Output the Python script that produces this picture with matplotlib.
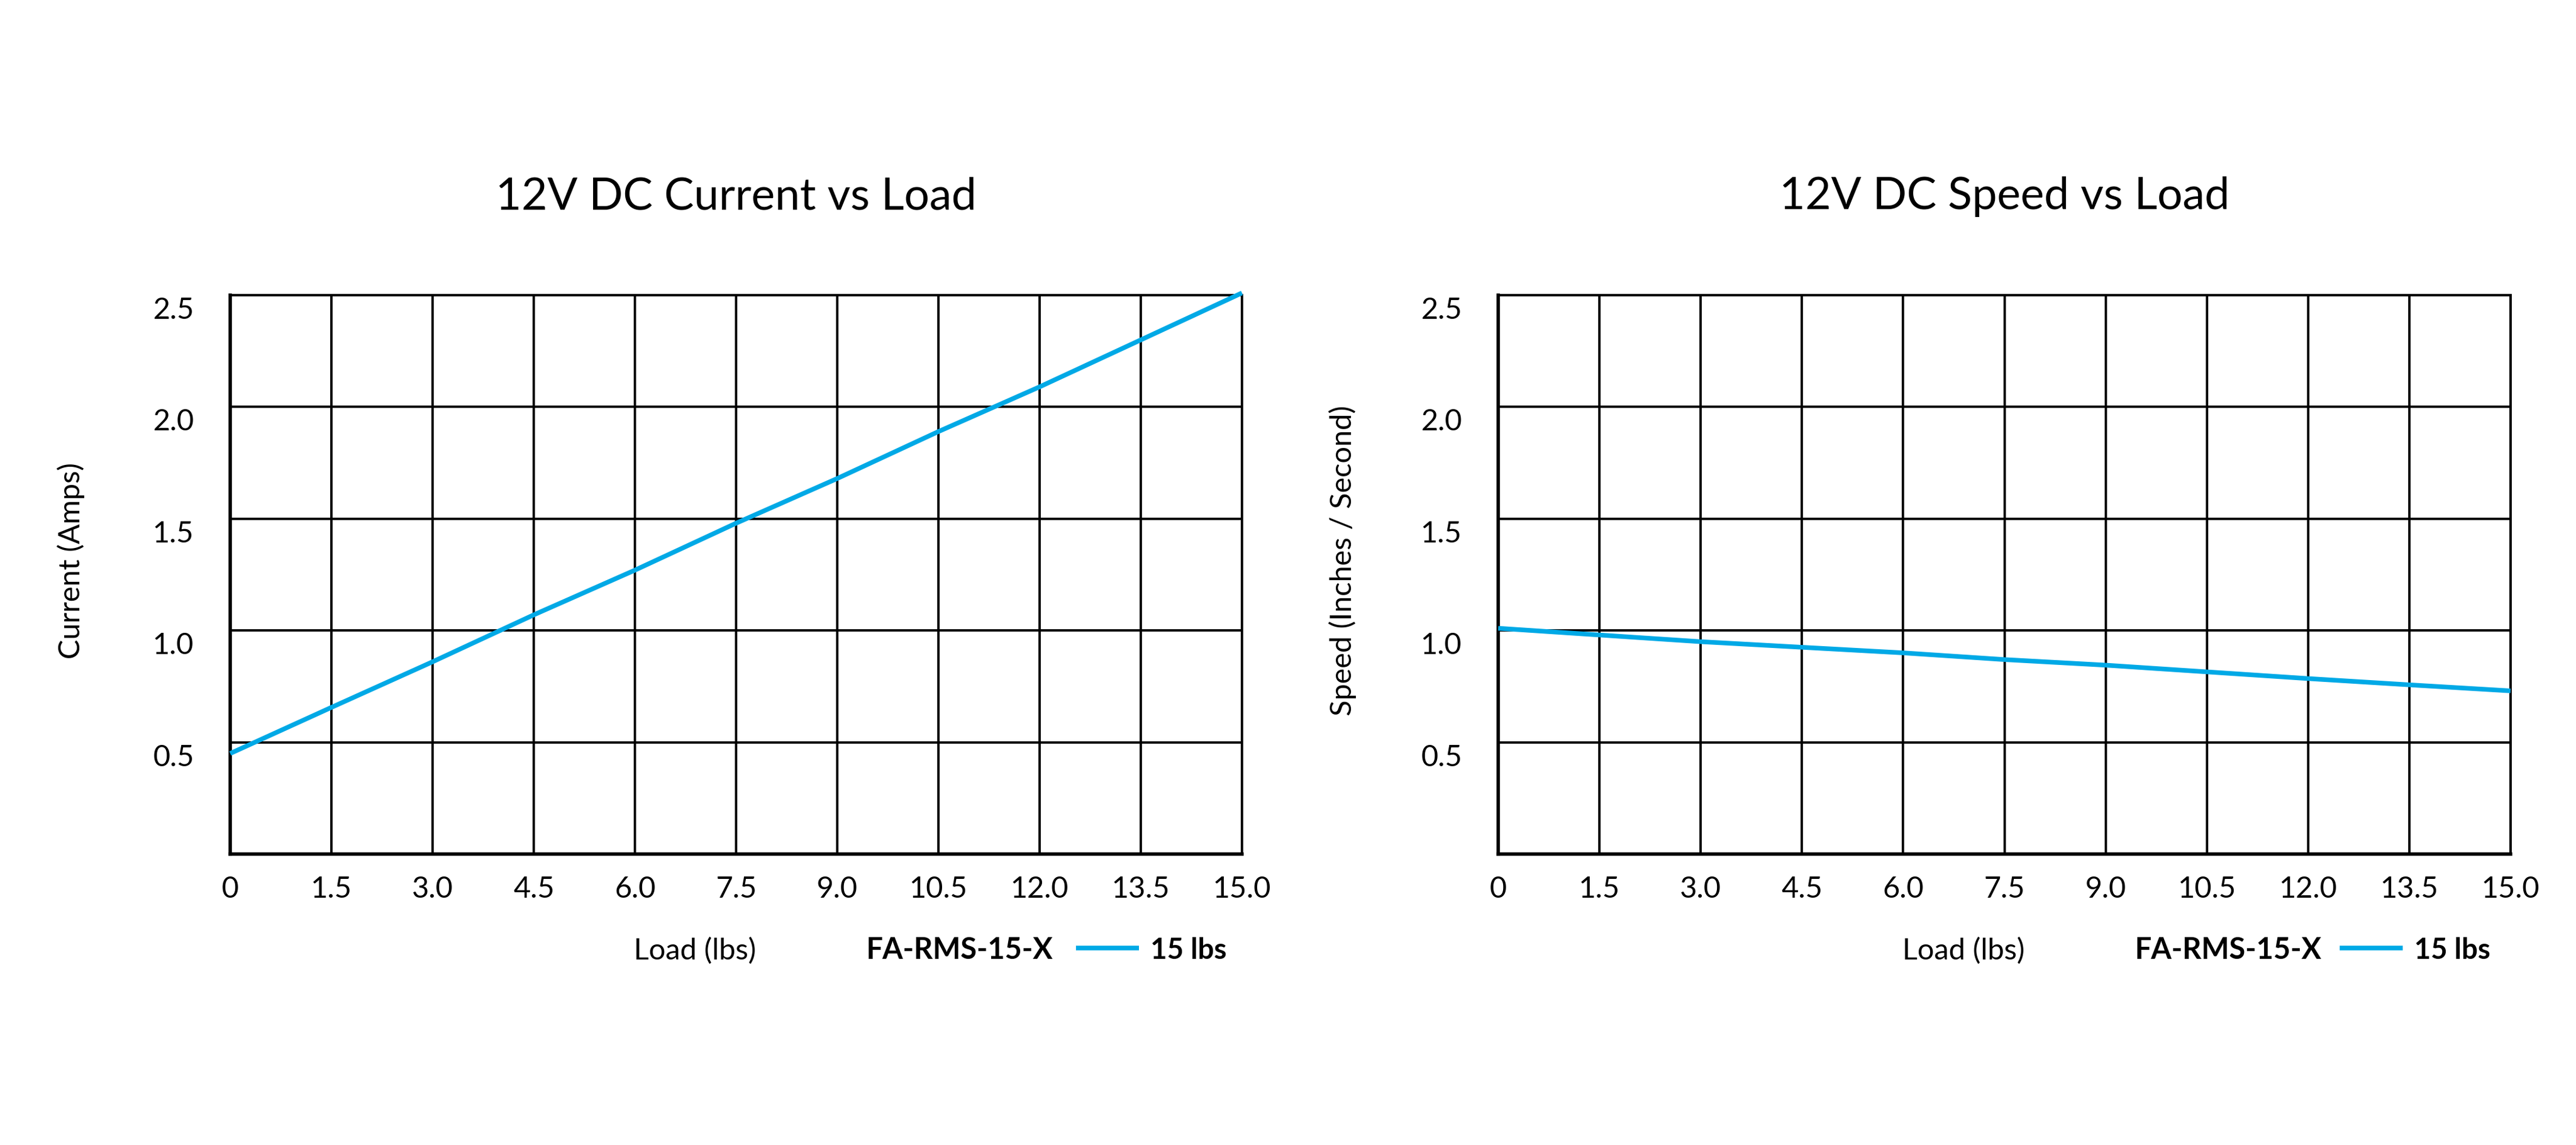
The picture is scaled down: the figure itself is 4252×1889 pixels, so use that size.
"""
12V DC current / speed vs load curves for FA-RMS-15-X, two panels side by side.
"""

import matplotlib
matplotlib.use('Agg')
import matplotlib.pyplot as plt
import matplotlib.transforms as mtransforms

plt.rcParams['font.family'] = ['Lato', 'DejaVu Sans']

# --- data ---
load_lbs = [0, 1.5, 3.0, 4.5, 6.0, 7.5, 9.0, 10.5, 12.0, 13.5, 15.0]
current_amps = [0.45, 0.656, 0.86, 1.07, 1.27, 1.48, 1.68, 1.89, 2.09, 2.30, 2.51]
speed_ips = [1.01, 0.98, 0.95, 0.925, 0.90, 0.87, 0.845, 0.815, 0.785, 0.757, 0.73]

x_ticks = [0, 1.5, 3.0, 4.5, 6.0, 7.5, 9.0, 10.5, 12.0, 13.5, 15.0]
x_tick_labels = ['0', '1.5', '3.0', '4.5', '6.0', '7.5', '9.0', '10.5', '12.0', '13.5', '15.0']
y_ticks = [0.5, 1.0, 1.5, 2.0, 2.5]
y_tick_labels = ['0.5', '1.0', '1.5', '2.0', '2.5']

model = 'FA-RMS-15-X'
series_label = '15 lbs'
LINE_COLOR = '#00a9e6'

W, H = 4252, 1890
DPI = 100
FS = 35

fig = plt.figure(figsize=(W / DPI, H / DPI), dpi=DPI)

panels = [
    # (axes rect, title, ylabel, values, ylabel x, label x, legend text x, legend line x)
    ([380 / W, 1 - 1410 / H, 1670 / W, 922 / H], '12V DC Current vs Load',
     'Current (Amps)', current_amps, 117 / W, 1147 / W, 1429 / W, 1776 / W),
    ([2473 / W, 1 - 1410 / H, 1671 / W, 922 / H], '12V DC Speed vs Load',
     'Speed (Inches / Second)', speed_ips, 2216 / W, 3241 / W, 3523 / W, 3862 / W),
]

down = mtransforms.ScaledTranslation(0, -20 / DPI, fig.dpi_scale_trans)

for rect, title, ylabel, values, ylab_x, xlab_x, leg_txt_x, leg_line_x in panels:
    ax = fig.add_axes(rect)
    ax.set_xlim(0, 15)
    ax.set_ylim(0, 2.5)
    ax.set_xticks(x_ticks)
    ax.set_xticklabels(x_tick_labels, fontsize=FS)
    ax.set_yticks(y_ticks)
    ax.set_yticklabels(y_tick_labels, fontsize=FS)
    ax.tick_params(axis='x', length=0, pad=25)
    ax.tick_params(axis='y', length=0, pad=43)
    for lab in ax.get_yticklabels():
        lab.set_transform(lab.get_transform() + down)

    ax.grid(True, color='black', linewidth=2.8)
    ax.set_axisbelow(True)
    for side, sp in ax.spines.items():
        sp.set_color('black')
        sp.set_linewidth(4.0 if side in ('left', 'bottom') else 2.9)

    line, = ax.plot(load_lbs, values, color=LINE_COLOR, linewidth=5.5,
                    solid_capstyle='butt', clip_on=False, zorder=3)

    cx = rect[0] + rect[2] / 2
    fig.text(cx, 1 - 325 / H, title, fontsize=53, ha='center', va='center')
    fig.text(ylab_x, 1 - 925 / H, ylabel, fontsize=FS, rotation=90,
             ha='center', va='center')
    fig.text(xlab_x, 1 - 1568 / H, 'Load (lbs)', fontsize=FS, ha='center', va='center')
    fig.text(leg_txt_x, 1 - 1568 / H, model, fontsize=FS, fontweight='bold',
             ha='left', va='center')
    ax.legend(handles=[line], labels=[series_label], loc='center left',
              bbox_to_anchor=(leg_line_x, 1 - 1568 / H), bbox_transform=fig.transFigure,
              frameon=False, borderpad=0, borderaxespad=0, handlelength=2.2,
              handletextpad=0.4, prop={'weight': 'bold', 'size': 34})

fig.savefig('out.png', dpi=DPI, facecolor='white')
